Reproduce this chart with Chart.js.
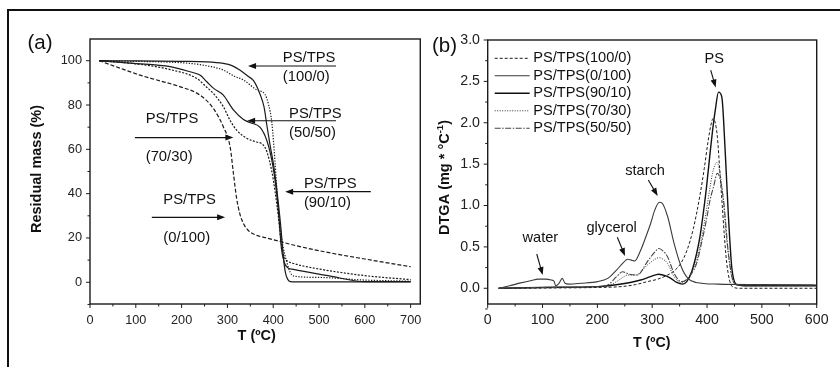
<!DOCTYPE html>
<html>
<head>
<meta charset="utf-8">
<title>PS/TPS TGA and DTGA</title>
<script src="https://cdn.jsdelivr.net/npm/chart.js@4.4.1/dist/chart.umd.min.js"></script>
<style>
  html, body { margin: 0; padding: 0; background: #fff; }
  body { width: 840px; height: 367px; position: relative; overflow: hidden; }
  #frame { position: absolute; left: 7px; top: 9px; width: 850px; height: 370px; border-top: 2px solid #111; border-left: 2px solid #111; }
  canvas { position: absolute; top: 0; }
  #tga { left: 0; }
  #dtga { left: 430px; }
</style>
</head>
<body>
<div id="frame"></div>
<canvas id="tga" width="430" height="367"></canvas>
<canvas id="dtga" width="410" height="367"></canvas>
<script>
const FONT = '"Liberation Sans", Arial, Helvetica, sans-serif';
const INK = '#1b1b1b';

// ---------- (a) TGA: residual mass (%) against T (ºC) ----------
const tgaTicksX = [0, 100, 200, 300, 400, 500, 600, 700];
const tgaTicksY = [0, 20, 40, 60, 80, 100];

const tgaT_100_0 = [20, 100, 200, 255, 291, 310, 327, 345, 357, 371, 380, 386, 393, 400, 406, 411, 417, 422, 426, 430, 437, 450, 700];
const tgaM_100_0 = [100, 99.9, 99.7, 99.5, 98.8, 97.8, 95.8, 93, 91, 85, 79, 71, 62, 54, 45, 36, 24, 11.6, 5, 2, 0.3, 0.2, 0.2];

const tgaT_0_100 = [20, 73, 109, 146, 196, 240, 269, 291, 306, 313, 320, 327, 335, 345, 360, 386, 422, 450, 531, 600, 700];
const tgaM_0_100 = [100, 96.1, 93.5, 91.3, 88.3, 84.5, 78.5, 70.2, 61, 49.3, 38, 31, 26.5, 23.5, 21.5, 20, 18, 16.5, 13, 10.5, 7];

const tgaT_90_10 = [20, 100, 167, 218, 260, 291, 315, 335, 350, 364, 382, 390, 397, 404, 411, 419, 429, 437, 445, 500, 600, 700];
const tgaM_90_10 = [100, 99.7, 99.4, 98.8, 97.5, 95.8, 93, 91.3, 89, 86.8, 84.8, 80, 72, 54, 33, 19, 9.5, 4.5, 2.8, 2.2, 1.0, 0.5];

const tgaT_70_30 = [20, 100, 175, 233, 255, 269, 291, 306, 320, 342, 360, 378, 386, 397, 404, 411, 418, 425, 432, 444, 500, 600, 700];
const tgaM_70_30 = [100, 98.6, 96, 92, 88, 85.3, 79.3, 73, 68.7, 65, 63.5, 62, 59, 50, 41, 30, 17, 11, 9.5, 8.5, 6, 3, 1.2];

const tgaT_50_50 = [20, 95, 175, 218, 240, 255, 270, 291, 313, 335, 350, 371, 386, 397, 404, 411, 418, 425, 432, 444, 520, 600, 700];
const tgaM_50_50 = [100, 98.8, 97.3, 95, 93.5, 90.5, 87.5, 84.5, 77.8, 73.5, 72, 70, 64, 55, 46, 33, 15, 8.5, 6.5, 5.8, 3, 0.3, 0.3];

// ---------- (b) DTGA against T (ºC) ----------
const dtgaTicksX = [0, 100, 200, 300, 400, 500, 600];
const dtgaTicksY = [0, 0.5, 1.0, 1.5, 2.0, 2.5, 3.0];

const dtgaT_100_0 = [20, 100, 200, 243, 270, 291, 310, 328, 340, 351, 363, 375, 387, 395, 402, 407, 411, 415, 419, 423, 427, 432, 436, 441, 446, 460, 600];
const dtgaV_100_0 = [0, 0.003, 0.01, 0.02, 0.045, 0.08, 0.11, 0.16, 0.21, 0.29, 0.45, 0.72, 1.12, 1.45, 1.78, 1.97, 2.05, 2.0, 1.82, 1.45, 1.07, 0.6, 0.3, 0.1, 0.02, 0, 0];

const dtgaT_0_100 = [20, 40, 60, 80, 92, 105, 116, 121, 124, 130, 136, 141, 148, 170, 200, 219, 235, 246, 255, 262, 268, 279, 290, 297, 305, 313, 318, 328, 340, 353, 365, 380, 420, 500, 600];
const dtgaV_0_100 = [0, 0.03, 0.065, 0.095, 0.11, 0.11, 0.1, 0.085, 0.03, 0.06, 0.12, 0.06, 0.05, 0.06, 0.08, 0.12, 0.22, 0.3, 0.35, 0.34, 0.33, 0.46, 0.65, 0.78, 0.95, 1.04, 1.03, 0.87, 0.54, 0.26, 0.12, 0.07, 0.05, 0.045, 0.04];

const dtgaT_90_10 = [20, 100, 200, 231, 260, 279, 297, 312, 325, 334, 345, 355, 363, 372, 381, 387, 393, 399, 405, 410, 415, 421, 427, 433, 439, 445, 450, 456, 480, 600];
const dtgaV_90_10 = [0, 0.01, 0.02, 0.04, 0.07, 0.1, 0.14, 0.17, 0.15, 0.12, 0.07, 0.05, 0.08, 0.2, 0.42, 0.62, 0.9, 1.22, 1.6, 1.9, 2.15, 2.37, 2.31, 1.67, 0.87, 0.26, 0.08, 0.04, 0.03, 0.03];

const dtgaT_70_30 = [20, 100, 200, 219, 235, 246, 255, 270, 291, 305, 312, 320, 328, 340, 353, 362, 372, 381, 390, 399, 405, 410, 418, 427, 436, 445, 452, 480, 600];
const dtgaV_70_30 = [0, 0.01, 0.02, 0.03, 0.08, 0.13, 0.16, 0.16, 0.28, 0.35, 0.37, 0.35, 0.3, 0.14, 0.07, 0.1, 0.2, 0.34, 0.6, 0.95, 1.2, 1.39, 1.52, 1.23, 0.58, 0.14, 0.05, 0.03, 0.03];

const dtgaT_50_50 = [20, 100, 200, 219, 235, 246, 258, 273, 291, 305, 312, 320, 328, 340, 353, 362, 372, 381, 390, 399, 405, 412, 419, 430, 439, 448, 456, 480, 600];
const dtgaV_50_50 = [0, 0.01, 0.02, 0.04, 0.14, 0.2, 0.17, 0.16, 0.32, 0.44, 0.48, 0.45, 0.38, 0.18, 0.08, 0.1, 0.18, 0.3, 0.55, 0.83, 1.05, 1.23, 1.39, 1.07, 0.42, 0.08, 0.04, 0.04, 0.04];

const dtgaLegend = ['PS/TPS(100/0)', 'PS/TPS(0/100)', 'PS/TPS(90/10)', 'PS/TPS(70/30)', 'PS/TPS(50/50)'];

// labels with arrows on panel (a), placed in data units
const tgaNotes = [
  { x: 421, y: [101.4, 92.8], text: ['PS/TPS', '(100/0)'], from: [537, 97.6], to: [345, 97.6] },
  { x: 434.5, y: [75.9, 67.4], text: ['PS/TPS', '(50/50)'], from: [537, 72.9], to: [343, 72.9] },
  { x: 121.6, y: [73.7, 56.7], text: ['PS/TPS', '(70/30)'], from: [98, 65.3], to: [313, 65.3] },
  { x: 160, y: [37.1, 20.1], text: ['PS/TPS', '(0/100)'], from: [135, 29.3], to: [295, 29.3] },
  { x: 467, y: [44.6, 35.9], text: ['PS/TPS', '(90/10)'], from: [613, 40.9], to: [426, 40.9] }
];
// peak labels on panel (b)
const dtgaNotes = [
  { x: 96, y: 0.607, text: 'water', from: [89.4, 0.414], to: [100.3, 0.16] },
  { x: 226, y: 0.734, text: 'glycerol', from: [236.4, 0.616], to: [250.4, 0.39] },
  { x: 287, y: 1.419, text: 'starch', from: [292.9, 1.308], to: [310, 1.115] },
  { x: 413, y: 2.767, text: 'PS', from: [406.7, 2.636], to: [415.8, 2.427] }
];

function pts(xs, ys) {
  return xs.map((x, i) => ({ x: x, y: ys[i] }));
}

function arrow(ctx, x1, y1, x2, y2) {
  const ang = Math.atan2(y2 - y1, x2 - x1), L = 8, W = 3;
  const c = Math.cos(ang), s = Math.sin(ang);
  ctx.beginPath();
  ctx.moveTo(x1, y1);
  ctx.lineTo(x2 - c * L * 0.6, y2 - s * L * 0.6);
  ctx.stroke();
  ctx.beginPath();
  ctx.moveTo(x2, y2);
  ctx.lineTo(x2 - L * c + W * s, y2 - L * s - W * c);
  ctx.lineTo(x2 - L * c - W * s, y2 - L * s + W * c);
  ctx.closePath();
  ctx.fill();
}

// box round the plot area, outward major and minor ticks
const axisFrame = {
  id: 'axisFrame',
  afterDraw(chart, args, o) {
    const ctx = chart.ctx, a = chart.chartArea, sx = chart.scales.x, sy = chart.scales.y;
    ctx.save();
    ctx.strokeStyle = INK;
    ctx.lineWidth = 1.4;
    ctx.strokeRect(a.left, a.top, a.right - a.left, a.bottom - a.top);
    ctx.lineWidth = 1;
    ctx.beginPath();
    for (let v = o.xFrom; v <= sx.max + 1e-9; v += o.xMinor) {
      const p = sx.getPixelForValue(v);
      const len = o.xTicks.includes(v) ? 4 : 2.5;
      ctx.moveTo(p, a.bottom);
      ctx.lineTo(p, a.bottom + len);
    }
    for (let v = o.yFrom; v <= sy.max + 1e-9; v += o.yMinor) {
      const p = sy.getPixelForValue(v);
      const len = o.yTicks.some(t => Math.abs(t - v) < 1e-6) ? 4 : 2.5;
      ctx.moveTo(a.left, p);
      ctx.lineTo(a.left - len, p);
    }
    ctx.stroke();
    ctx.restore();
  }
};

function scaleOpts(min, max, ticks, fmt, size, pad, fit) {
  return {
    type: 'linear', min: min, max: max,
    grid: { display: false, drawTicks: false },
    border: { display: false },
    afterBuildTicks: s => { s.ticks = ticks.map(v => ({ value: v })); },
    afterFit: fit,
    ticks: { color: '#222', font: { family: FONT, size: size }, padding: pad, autoSkip: false, maxRotation: 0, callback: fmt }
  };
}

// ---------- chart (a) ----------
const tgaText = {
  id: 'tgaText',
  afterDraw(chart) {
    const ctx = chart.ctx, sx = chart.scales.x, sy = chart.scales.y;
    ctx.save();
    ctx.fillStyle = '#111';
    ctx.strokeStyle = '#111';
    ctx.font = '20.5px ' + FONT;
    ctx.textAlign = 'center';
    ctx.textBaseline = 'middle';
    ctx.fillText('(a)', 40, 43);
    ctx.font = 'bold 14.5px ' + FONT;
    ctx.fillText('T (ºC)', 256.7, 335.5);
    ctx.save();
    ctx.translate(37, 169);
    ctx.rotate(-Math.PI / 2);
    ctx.fillText('Residual mass (%)', 0, 0);
    ctx.restore();
    ctx.font = '14.8px ' + FONT;
    ctx.textAlign = 'left';
    ctx.lineWidth = 1.1;
    tgaNotes.forEach(n => {
      ctx.fillText(n.text[0], sx.getPixelForValue(n.x), sy.getPixelForValue(n.y[0]));
      ctx.fillText(n.text[1], sx.getPixelForValue(n.x), sy.getPixelForValue(n.y[1]));
      arrow(ctx, sx.getPixelForValue(n.from[0]), sy.getPixelForValue(n.from[1]),
        sx.getPixelForValue(n.to[0]), sy.getPixelForValue(n.to[1]));
    });
    ctx.restore();
  }
};

const tgaLine = { borderColor: INK, borderWidth: 1.2, pointRadius: 0, fill: false, cubicInterpolationMode: 'monotone' };

new Chart(document.getElementById('tga'), {
  type: 'line',
  data: {
    datasets: [
      Object.assign({ label: 'PS/TPS(0/100)', data: pts(tgaT_0_100, tgaM_0_100), borderDash: [4, 2] }, tgaLine),
      Object.assign({ label: 'PS/TPS(70/30)', data: pts(tgaT_70_30, tgaM_70_30), borderDash: [2, 1.5] }, tgaLine),
      Object.assign({ label: 'PS/TPS(90/10)', data: pts(tgaT_90_10, tgaM_90_10), borderDash: [1.3, 1.5] }, tgaLine),
      Object.assign({ label: 'PS/TPS(50/50)', data: pts(tgaT_50_50, tgaM_50_50) }, tgaLine),
      Object.assign({ label: 'PS/TPS(100/0)', data: pts(tgaT_100_0, tgaM_100_0) }, tgaLine)
    ]
  },
  options: {
    responsive: false,
    animation: false,
    layout: { padding: { top: 39, right: 9, bottom: 0, left: 0 } },
    plugins: {
      legend: { display: false },
      tooltip: { enabled: false },
      axisFrame: { xFrom: 0, xMinor: 50, xTicks: tgaTicksX, yFrom: -10, yMinor: 10, yTicks: tgaTicksY }
    },
    scales: {
      x: scaleOpts(0, 721, tgaTicksX, v => String(v), 12.7, 8.5, s => { s.height = 63; }),
      y: scaleOpts(-9.8, 109.8, tgaTicksY, v => String(v), 12.8, 8, s => { s.width = 90; })
    }
  },
  plugins: [axisFrame, tgaText]
});

// ---------- chart (b) ----------
const dtgaText = {
  id: 'dtgaText',
  afterDraw(chart) {
    const ctx = chart.ctx, sx = chart.scales.x, sy = chart.scales.y, a = chart.chartArea;
    ctx.save();
    ctx.fillStyle = '#111';
    ctx.strokeStyle = '#111';
    ctx.font = '20.5px ' + FONT;
    ctx.textAlign = 'center';
    ctx.textBaseline = 'middle';
    ctx.fillText('(b)', 14.5, 46.5);
    ctx.font = 'bold 14.2px ' + FONT;
    ctx.fillText('T (ºC)', 221.7, 343.5);

    // y title with a superscript -1
    ctx.save();
    ctx.translate(15, 177.5);
    ctx.rotate(-Math.PI / 2);
    const big = 'bold 14.5px ' + FONT, small = 'bold 9.5px ' + FONT;
    ctx.font = big;
    const w1 = ctx.measureText('DTGA (mg * °C').width, w3 = ctx.measureText(')').width;
    ctx.font = small;
    const w2 = ctx.measureText('-1').width;
    let x = -(w1 + w2 + w3) / 2;
    ctx.textAlign = 'left';
    ctx.font = big;
    ctx.fillText('DTGA (mg * °C', x, 0);
    ctx.font = small;
    ctx.fillText('-1', x + w1, -5);
    ctx.font = big;
    ctx.fillText(')', x + w1 + w2, 0);
    ctx.restore();

    // legend inside the plot, top left
    ctx.font = '14.6px ' + FONT;
    ctx.textAlign = 'left';
    dtgaLegend.forEach((name, i) => {
      const ds = chart.data.datasets.find(d => d.label === name);
      const y = a.top + 18.3 + i * 17.5;
      ctx.save();
      ctx.strokeStyle = ds.borderColor;
      ctx.lineWidth = ds.borderWidth;
      ctx.setLineDash(ds.borderDash || []);
      ctx.beginPath();
      ctx.moveTo(a.left + 7, y);
      ctx.lineTo(a.left + 42, y);
      ctx.stroke();
      ctx.restore();
      ctx.fillText(name, a.left + 45.5, y);
    });

    // peak labels
    ctx.textAlign = 'center';
    ctx.lineWidth = 1.1;
    dtgaNotes.forEach(n => {
      ctx.fillText(n.text, sx.getPixelForValue(n.x), sy.getPixelForValue(n.y));
      arrow(ctx, sx.getPixelForValue(n.from[0]), sy.getPixelForValue(n.from[1]),
        sx.getPixelForValue(n.to[0]), sy.getPixelForValue(n.to[1]));
    });
    ctx.restore();
  }
};

const dtgaLine = { pointRadius: 0, fill: false, cubicInterpolationMode: 'monotone' };

new Chart(document.getElementById('dtga'), {
  type: 'line',
  data: {
    datasets: [
      Object.assign({ label: dtgaLegend[4], data: pts(dtgaT_50_50, dtgaV_50_50), borderColor: '#444', borderWidth: 1.1, borderDash: [6, 1.5, 1.5, 1.5] }, dtgaLine),
      Object.assign({ label: dtgaLegend[3], data: pts(dtgaT_70_30, dtgaV_70_30), borderColor: '#333', borderWidth: 1, borderDash: [1, 1.5] }, dtgaLine),
      Object.assign({ label: dtgaLegend[0], data: pts(dtgaT_100_0, dtgaV_100_0), borderColor: INK, borderWidth: 1, borderDash: [3, 2] }, dtgaLine),
      Object.assign({ label: dtgaLegend[1], data: pts(dtgaT_0_100, dtgaV_0_100), borderColor: '#3a3a3a', borderWidth: 1.1 }, dtgaLine),
      Object.assign({ label: dtgaLegend[2], data: pts(dtgaT_90_10, dtgaV_90_10), borderColor: '#111', borderWidth: 1.4 }, dtgaLine)
    ]
  },
  options: {
    responsive: false,
    animation: false,
    layout: { padding: { top: 40, right: 23.3, bottom: 0, left: 0 } },
    plugins: {
      legend: { display: false },
      tooltip: { enabled: false },
      axisFrame: { xFrom: 0, xMinor: 50, xTicks: dtgaTicksX, yFrom: -0.25, yMinor: 0.25, yTicks: dtgaTicksY }
    },
    scales: {
      x: scaleOpts(0, 600, dtgaTicksX, v => String(v), 14.2, 8, s => { s.height = 63; }),
      y: scaleOpts(-0.19, 3.0, dtgaTicksY, v => v.toFixed(1), 14.2, 7.7, s => { s.width = 57.7; })
    }
  },
  plugins: [axisFrame, dtgaText]
});
</script>
</body>
</html>
